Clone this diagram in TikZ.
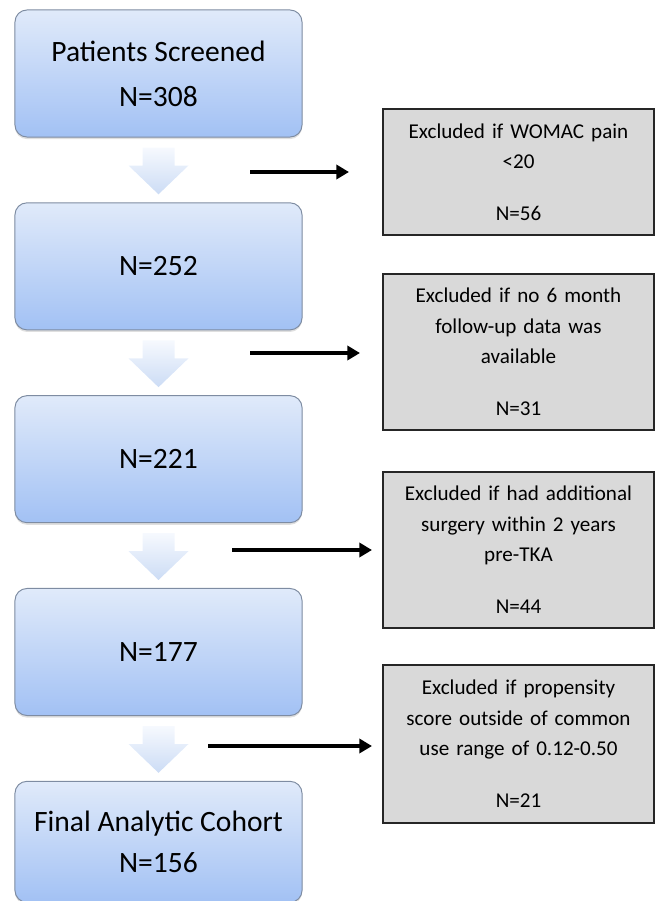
\documentclass[tikz,border=0pt]{standalone}
\usepackage{fontspec}
\setmainfont{Carlito}
\usepackage{tikz}
\usetikzlibrary{arrows.meta, positioning, calc, shadows}

\definecolor{boxtop}{HTML}{E0EAFA}
\definecolor{boxbot}{HTML}{A2C1F4}
\definecolor{boxline}{HTML}{7E8CA2}
\definecolor{chevtop}{HTML}{F6F9FE}
\definecolor{chevbot}{HTML}{CCDCF5}
\definecolor{exclfill}{HTML}{D9D9D9}

\begin{document}
\begin{tikzpicture}[
  x=0.025cm, y=-0.025cm,
  node distance=1.62cm,
  stage/.style={rectangle, draw=boxline, line width=0.7pt, rounded corners=0.3cm,
                top color=boxtop, bottom color=boxbot,
                drop shadow={opacity=0.25, shadow xshift=0pt, shadow yshift=-1.5pt},
                minimum width=7.175cm, minimum height=3.175cm, align=center,
                font=\fontsize{21}{32}\selectfont},
  excl/.style={rectangle, draw=black!85, line width=1.3pt, fill=exclfill,
               minimum width=6.775cm, text width=6.3cm, align=center,
               font=\fontsize{15}{21.5}\selectfont},
  chev/.style={top color=chevtop, bottom color=chevbot},
  arr/.style={-{Triangle[length=9pt, width=10pt]}, line width=2.3pt},
]
\useasboundingbox (0,0) rectangle (656,901);

% cohort stages
\node[stage] (b1) at (158.5,73.5) {Patients Screened\\N=308};
\node[stage, below=of b1] (b2) {N=252};
\node[stage, below=of b2] (b3) {N=221};
\node[stage, below=of b3] (b4) {N=177};
\node[stage, below=of b4, minimum height=3.025cm] (b5)
  {Final Analytic Cohort\\[-0.1cm]N=156};

\foreach \a/\b in {b1/b2, b2/b3, b3/b4, b4/b5}
  \path[chev] ($(\a.south)+(-16,10)$) -- ++(32,0) -- ++(0,18) -- ++(14,0)
    -- ($(\b.north)+(0,-8)$) -- ($(\a.south)+(-30,28)$) -- ++(14,0) -- cycle;

% exclusions
\node[excl, minimum height=3.15cm] (g1) at (518.5,172)
  {Excluded if WOMAC pain\\<20\\[0.55cm]N=56};
\node[excl, minimum height=3.9cm] (g2) at (518.5,352)
  {Excluded if no 6 month\\follow-up data was\\available\\[0.55cm]N=31};
\node[excl, minimum height=3.9cm] (g3) at (518.5,550)
  {Excluded if had additional\\surgery within 2 years\\pre-TKA\\[0.55cm]N=44};
\node[excl, minimum height=3.95cm] (g4) at (518.5,744)
  {Excluded if propensity\\score outside of common\\use range of 0.12-0.50\\[0.55cm]N=21};

\coordinate (s1) at (250,172);  \coordinate (e1) at (349,172);
\coordinate (s2) at (250,353);  \coordinate (e2) at (360,353);
\coordinate (s3) at (232,550);  \coordinate (e3) at (372,550);
\coordinate (s4) at (208,746);  \coordinate (e4) at (372,746);

\foreach \i in {1,...,4}
  \draw[arr] (s\i) -- (e\i);
\end{tikzpicture}
\end{document}
